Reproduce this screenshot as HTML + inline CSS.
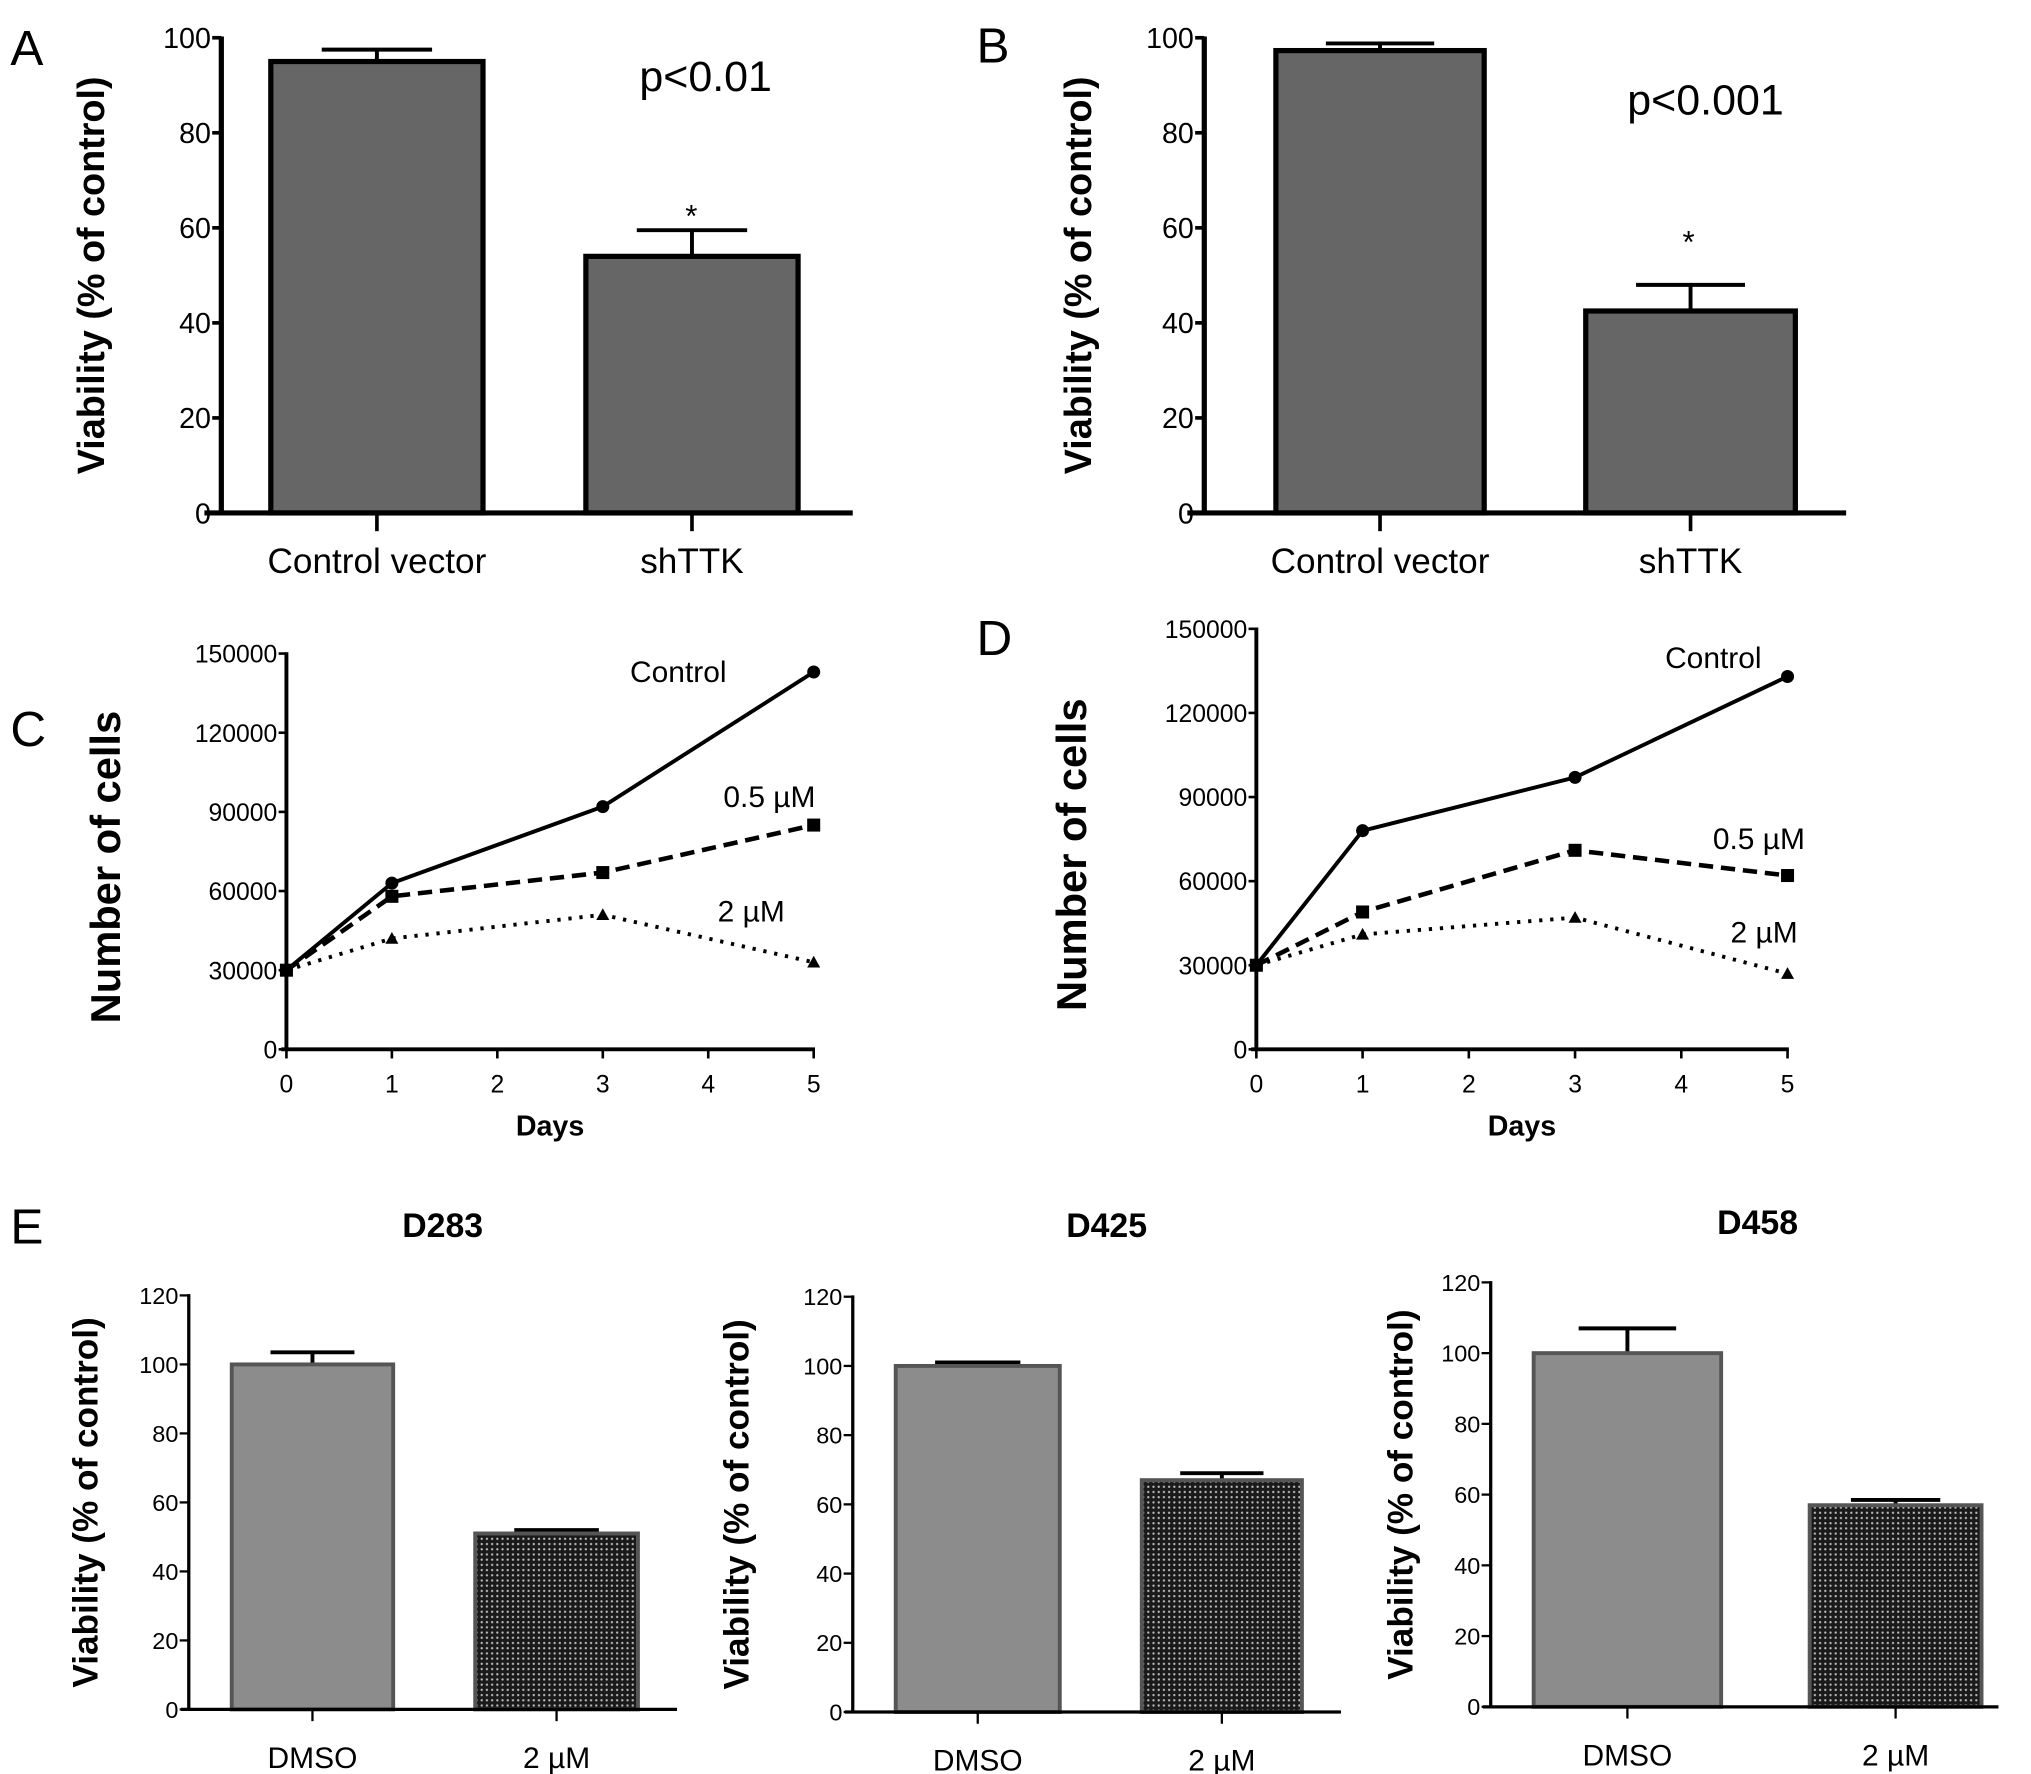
<!DOCTYPE html>
<html><head><meta charset="utf-8"><style>
html,body{margin:0;padding:0;background:#fff;}
svg{display:block;font-family:"Liberation Sans",Arial,sans-serif;}
</style></head><body>
<svg id="fig" width="2031" height="1774" viewBox="0 0 1560 1362.6" preserveAspectRatio="none" xmlns="http://www.w3.org/2000/svg">
<defs>
<pattern id="dots" width="4" height="4" patternUnits="userSpaceOnUse">
<rect width="4" height="4" fill="#1a1a1a"/><circle cx="2" cy="2" r="0.9" fill="#bbb"/>
</pattern>
</defs>
</svg>
<script>
// Panel A
const catsAB = ['Control vector','shTTK'];
const valsA = [95, 54];
const errA = [97.5, 59.5];
// Panel B
const valsB = [97.3, 42.5];
const errB = [98.8, 48];
const ticksAB = [0,20,40,60,80,100];
// Panel C
const days = [0,1,3,5];
const cControl = [30000,63000,92000,143000];
const cHalf = [30000,58000,67000,85000];
const cTwo = [30000,42000,51000,33000];
// Panel D
const dControl = [30000,78000,97000,133000];
const dHalf = [30000,49000,71000,62000];
const dTwo = [30000,41000,47000,27000];
const ticksCD = [0,30000,60000,90000,120000,150000];
const dayTicks = [0,1,2,3,4,5];
// Panel E
const catsE = ['DMSO','2 µM'];
const valsE283 = [100, 51];
const errE283 = [103.5, 52];
const valsE425 = [100, 67];
const errE425 = [101, 69];
const valsE458 = [100, 57];
const errE458 = [107, 58.5];
const ticksE = [0,20,40,60,80,100,120];

const svg = document.getElementById('fig');
const NS = 'http://www.w3.org/2000/svg';
function mk(tag, attrs, parent, txt){
  const e = document.createElementNS(NS, tag);
  for (const k in attrs) e.setAttribute(k, attrs[k]);
  if (txt !== undefined) e.textContent = txt;
  (parent||svg).appendChild(e);
  return e;
}
function group(name){
  const g = mk('g', {});
  
  
  return g;
}
function text(g, name, x, y, s, size, opts){
  opts = opts||{};
  const t = mk('text', {x:x, y:y, 'font-size':size, 'text-anchor':opts.anchor||'middle', 'font-weight':opts.bold?'bold':'normal', fill:'#000'}, g, s);
  if (opts.rot) t.setAttribute('transform', 'rotate(-90 '+x+' '+y+')');
  
  
  return t;
}

function barPanel(cfg){
  const g = group(cfg.name);
  const y = v => cfg.y0 - (cfg.y0 - cfg.yTop) * v / cfg.vmax;
  cfg.vals.forEach((v,i) => {
    const [x1,x2] = cfg.bx[i];
    const cx = (x1+x2)/2, hw = (x2-x1)*0.26;
    const eb = mk('path', {d:'M'+cx+' '+y(v)+'V'+y(cfg.err[i])+'M'+(cx-hw)+' '+y(cfg.err[i])+'H'+(cx+hw), stroke:'#000', 'stroke-width':cfg.ew, fill:'none'}, g);
    
    
    const r = mk('rect', {x:x1, y:y(v), width:x2-x1, height:cfg.y0-y(v), fill:cfg.fills[i], stroke:cfg.stroke, 'stroke-width':cfg.sw}, g);
    
    
    const tk = mk('line', {x1:cx, x2:cx, y1:cfg.y0, y2:cfg.y0+cfg.tl, stroke:'#000', 'stroke-width':cfg.aw*0.7}, g);
    
    
    text(g, 'x-tick-label', cx, cfg.catY, cfg.cats[i], cfg.catSize);
  });
  const ya = mk('line', {x1:cfg.ax, x2:cfg.ax, y1:y(cfg.vmax)-1, y2:cfg.y0, stroke:'#000', 'stroke-width':cfg.aw}, g);
  
  
  const xa = mk('line', {x1:cfg.xStart, x2:cfg.xEnd, y1:cfg.y0, y2:cfg.y0, stroke:'#000', 'stroke-width':cfg.aw}, g);
  
  
  cfg.ticks.forEach(t => {
    const l = mk('line', {x1:cfg.ax-7, x2:cfg.ax, y1:y(t), y2:y(t), stroke:'#000', 'stroke-width':cfg.aw*0.7}, g);
    
    
    text(g, 'y-tick-label', cfg.ax-8, y(t)+cfg.tickSize*0.36, String(t), cfg.tickSize, {anchor:'end'});
  });
  text(g, 'y-axis-title', cfg.titleX, (cfg.y0+y(cfg.vmax))/2, 'Viability (% of control)', cfg.titleSize, {bold:true, rot:true});
  return g;
}

// Panel A
text(svg, 'panel-label-a', 8, 50, 'A', 38, {anchor:'start'});
const gA = barPanel({name:'panel-a', cats:catsAB, vals:valsA, err:errA, ticks:ticksAB, vmax:100, y0:394, yTop:29, ax:170, xStart:157, xEnd:655,
  bx:[[208,371],[450,613]], fills:['#666','#666'], stroke:'#000', sw:4, ew:3, aw:4, tl:14, catY:440, catSize:27, tickSize:22, titleX:80, titleSize:29});
text(gA, 'p-value', 542, 70, 'p<0.01', 33);
text(gA, 'significance-star', 531, 174, '*', 24);

// Panel B
text(svg, 'panel-label-b', 750, 48, 'B', 38, {anchor:'start'});
const gB = barPanel({name:'panel-b', cats:catsAB, vals:valsB, err:errB, ticks:ticksAB, vmax:100, y0:394, yTop:29, ax:925, xStart:912, xEnd:1418,
  bx:[[980,1140],[1218,1379]], fills:['#666','#666'], stroke:'#000', sw:4, ew:3, aw:4, tl:14, catY:440, catSize:27, tickSize:22, titleX:838, titleSize:29});
text(gB, 'p-value', 1310, 88, 'p<0.001', 33);
text(gB, 'significance-star', 1297, 194, '*', 24);

function linePanel(cfg){
  const g = group(cfg.name);
  const y = v => cfg.y0 - (cfg.y0 - cfg.yTop) * v / 150000;
  const x = d => cfg.ax + (cfg.x5 - cfg.ax) * d / 5;
  const ya = mk('line', {x1:cfg.ax, x2:cfg.ax, y1:cfg.yTop-1, y2:cfg.y0, stroke:'#000', 'stroke-width':3}, g);
  
  
  const xa = mk('line', {x1:cfg.ax-4, x2:x(5)+1, y1:cfg.y0, y2:cfg.y0, stroke:'#000', 'stroke-width':3}, g);
  
  
  ticksCD.forEach(t => {
    const l = mk('line', {x1:cfg.ax-6, x2:cfg.ax, y1:y(t), y2:y(t), stroke:'#000', 'stroke-width':2}, g);
    
    
    text(g, 'y-tick-label', cfg.ax-7, y(t)+7, String(t), 19, {anchor:'end'});
  });
  dayTicks.forEach(d => {
    const l = mk('line', {x1:x(d), x2:x(d), y1:cfg.y0, y2:cfg.y0+7, stroke:'#000', 'stroke-width':2}, g);
    
    
    text(g, 'x-tick-label', x(d), cfg.y0+33, String(d), 19);
  });
  text(g, 'x-axis-title', (cfg.ax+x(5))/2, 872, 'Days', 22, {bold:true});
  text(g, 'y-axis-title', cfg.titleX, (cfg.y0+cfg.yTop)/2+12, 'Number of cells', 32, {bold:true, rot:true});
  const series = [
    {name:'control', v:cfg.s[0], dash:'none', w:3, mark:'circle'},
    {name:'0-5-um', v:cfg.s[1], dash:'11 6', w:3.5, mark:'square'},
    {name:'2-um', v:cfg.s[2], dash:'2.5 6', w:3, mark:'triangle'}
  ];
  series.forEach(s => {
    const p = mk('polyline', {points:days.map((d,i)=>x(d)+','+y(s.v[i])).join(' '), fill:'none', stroke:'#000', 'stroke-width':s.w, 'stroke-dasharray':s.dash}, g);
    
    
    days.forEach((d,i) => {
      const px = x(d), py = y(s.v[i]);
      let m;
      if (s.mark==='circle') m = mk('circle', {cx:px, cy:py, r:5, fill:'#000'}, g);
      else if (s.mark==='square') m = mk('rect', {x:px-5, y:py-5, width:10, height:10, fill:'#000'}, g);
      else m = mk('path', {d:'M'+px+' '+(py-5)+'L'+(px+5)+' '+(py+4)+'L'+(px-5)+' '+(py+4)+'Z', fill:'#000'}, g);
      
      
    });
  });
  cfg.labels.forEach(l => text(g, 'series-label', l[1], l[2], l[0], 23));
  return g;
}
text(svg, 'panel-label-c', 8, 573, 'C', 38, {anchor:'start'});
linePanel({name:'panel-c', ax:220, x5:625, y0:806, yTop:502, titleX:92, s:[cControl,cHalf,cTwo],
  labels:[['Control',521,524],['0.5 µM',591,620],['2 µM',577,708]]});
text(svg, 'panel-label-d', 750, 503, 'D', 38, {anchor:'start'});
linePanel({name:'panel-d', ax:965, x5:1373, y0:806, yTop:483, titleX:834, s:[dControl,dHalf,dTwo],
  labels:[['Control',1316,513],['0.5 µM',1351,652],['2 µM',1355,724]]});

text(svg, 'panel-label-e', 8, 955, 'E', 38, {anchor:'start'});
const eCfg = [
  {name:'panel-e-d283', title:'D283', tx:340, ty:950, vals:valsE283, err:errE283, ax:145, y0:1313, yTop:995, xEnd:520, bx:[[178,302],[365,490]], titleX:75},
  {name:'panel-e-d425', title:'D425', tx:850, ty:950, vals:valsE425, err:errE425, ax:655, y0:1315, yTop:996, xEnd:1030, bx:[[688,814],[877,1000]], titleX:575},
  {name:'panel-e-d458', title:'D458', tx:1350, ty:948, vals:valsE458, err:errE458, ax:1145, y0:1311, yTop:985, xEnd:1535, bx:[[1178,1322],[1390,1522]], titleX:1085}
];
eCfg.forEach(c => {
  const g = barPanel({name:c.name, cats:catsE, vals:c.vals, err:c.err, ticks:ticksE, vmax:120, y0:c.y0, yTop:c.yTop, ax:c.ax, xStart:c.ax-6, xEnd:c.xEnd,
    bx:c.bx, fills:['#8c8c8c','url(#dots)'], stroke:'#555', sw:3, ew:3, aw:2.5, tl:9, catY:c.y0+45, catSize:23, tickSize:18, titleX:c.titleX, titleSize:27});
  text(g, 'chart-title', c.tx, c.ty, c.title, 26, {bold:true});
});
</script>
</body></html>
